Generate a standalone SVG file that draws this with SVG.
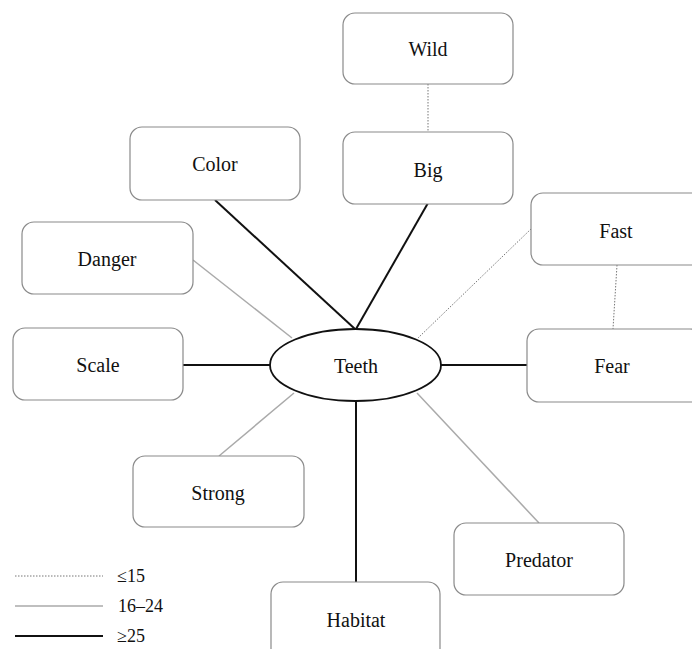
<svg xmlns="http://www.w3.org/2000/svg" width="692" height="649" viewBox="0 0 692 649">
<style>
.box{fill:#fff;stroke:#8a8a8a;stroke-width:1.2}
.t{font-family:"Liberation Serif","Times New Roman",serif;font-size:20px;fill:#111;text-anchor:middle;dominant-baseline:central}
.lt{font-family:"Liberation Serif","Times New Roman",serif;font-size:18px;fill:#111}
.thin{stroke:#777;stroke-width:1;stroke-dasharray:1.5 1.5;fill:none}
.mid{stroke:#aaa;stroke-width:1.5;fill:none}
.thick{stroke:#111;stroke-width:2;fill:none}
</style>
<rect width="692" height="649" fill="#fff"/>
<g id="connectors">
<line class="thin" x1="428" y1="84" x2="428" y2="132"/>
<line class="thin" x1="617" y1="265" x2="613" y2="329"/>
<line class="thin" x1="531" y1="229" x2="418" y2="338"/>
<line class="thick" x1="428" y1="203" x2="356" y2="329"/>
<line class="thick" x1="215" y1="200" x2="355" y2="329"/>
<line class="mid" x1="193" y1="260" x2="292" y2="338"/>
<line class="thick" x1="183" y1="365" x2="270" y2="365"/>
<line class="mid" x1="219" y1="456" x2="294" y2="393"/>
<line class="thick" x1="356" y1="401" x2="356" y2="582"/>
<line class="mid" x1="539" y1="523" x2="417" y2="393"/>
<line class="thick" x1="441" y1="365" x2="527" y2="365"/>
</g>
<g id="node-wild"><rect class="box" x="343" y="13" width="170" height="71" rx="12"/><text class="t" x="428" y="49">Wild</text></g>
<g id="node-big"><rect class="box" x="343" y="132" width="170" height="72" rx="12"/><text class="t" x="428" y="170">Big</text></g>
<g id="node-color"><rect class="box" x="130" y="127" width="170" height="73" rx="12"/><text class="t" x="215" y="164">Color</text></g>
<g id="node-danger"><rect class="box" x="22" y="222" width="171" height="72" rx="12"/><text class="t" x="107" y="259">Danger</text></g>
<g id="node-fast"><rect class="box" x="531" y="193" width="175" height="72" rx="12"/><text class="t" x="616" y="231">Fast</text></g>
<g id="node-fear"><rect class="box" x="527" y="329" width="175" height="73" rx="12"/><text class="t" x="612" y="366">Fear</text></g>
<g id="node-scale"><rect class="box" x="13" y="328" width="170" height="72" rx="12"/><text class="t" x="98" y="365">Scale</text></g>
<g id="node-teeth"><ellipse cx="355.5" cy="365" rx="85.5" ry="36" fill="#fff" stroke="#111" stroke-width="1.8"/><text class="t" x="356" y="366">Teeth</text></g>
<g id="node-strong"><rect class="box" x="133" y="456" width="171" height="71" rx="12"/><text class="t" x="218" y="493">Strong</text></g>
<g id="node-predator"><rect class="box" x="454" y="523" width="170" height="72" rx="12"/><text class="t" x="539" y="560">Predator</text></g>
<g id="node-habitat"><rect class="box" x="271" y="582" width="169" height="80" rx="12"/><text class="t" x="356" y="620">Habitat</text></g>
<g id="legend">
<line class="thin" x1="15" y1="576" x2="103" y2="576"/>
<line class="mid" x1="15" y1="606" x2="103" y2="606"/>
<line class="thick" x1="15" y1="636" x2="103" y2="636"/>
<text class="lt" x="117" y="582">≤15</text>
<text class="lt" x="118" y="612">16–24</text>
<text class="lt" x="117" y="642">≥25</text>
</g>
</svg>
